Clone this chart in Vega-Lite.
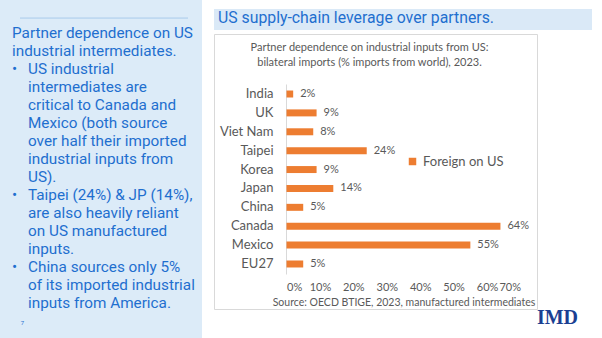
{
  "$schema": "https://vega.github.io/schema/vega-lite/v6.json",
  "background": "white",
  "padding": 0,
  "spacing": 11,
  "config": {"view": {"stroke": null}, "font": "Lato"},
  "resolve": {"scale": {"color": "independent"}, "legend": {"color": "independent"}},
  "hconcat": [
    {
      "width": 202,
      "height": 338,
      "view": {"fill": "#DCEBF8", "stroke": null},
      "layer": [
        {
          "data": {"values": [{"k": 1}]},
          "mark": {"type": "rule", "color": "#A8CAEC", "strokeWidth": 1},
          "encoding": {
            "x": {"datum": 0.5, "type": "quantitative", "scale": {"domain": [0, 1], "range": [12, 28]}, "axis": null},
            "x2": {"datum": 11},
            "y": {"datum": 0.17, "type": "quantitative", "scale": {"domain": [1, 16], "range": [33, 303]}, "axis": null}
          }
        },
        {
          "data": {"values": [
            {"line": 1, "indent": 0, "t": "Partner dependence on US", "role": "text"},
            {"line": 2, "indent": 0, "t": "industrial intermediates.", "role": "text"},
            {"line": 3, "indent": 0, "t": "•", "role": "text"},
            {"line": 3, "indent": 1, "t": "US industrial", "role": "text"},
            {"line": 4, "indent": 1, "t": "intermediates are", "role": "text"},
            {"line": 5, "indent": 1, "t": "critical to Canada and", "role": "text"},
            {"line": 6, "indent": 1, "t": "Mexico (both source", "role": "text"},
            {"line": 7, "indent": 1, "t": "over half their imported", "role": "text"},
            {"line": 8, "indent": 1, "t": "industrial inputs from", "role": "text"},
            {"line": 9, "indent": 1, "t": "US).", "role": "text"},
            {"line": 10, "indent": 0, "t": "•", "role": "text"},
            {"line": 10, "indent": 1, "t": "Taipei (24%) & JP (14%),", "role": "text"},
            {"line": 11, "indent": 1, "t": "are also heavily reliant", "role": "text"},
            {"line": 12, "indent": 1, "t": "on US manufactured", "role": "text"},
            {"line": 13, "indent": 1, "t": "inputs.", "role": "text"},
            {"line": 14, "indent": 0, "t": "•", "role": "text"},
            {"line": 14, "indent": 1, "t": "China sources only 5%", "role": "text"},
            {"line": 15, "indent": 1, "t": "of its imported industrial", "role": "text"},
            {"line": 16, "indent": 1, "t": "inputs from America.", "role": "text"},
            {"line": 17.1, "indent": 0.55, "t": "7", "role": "page"}
          ]},
          "encoding": {
            "x": {"field": "indent", "type": "quantitative", "scale": {"domain": [0, 1], "range": [12, 28]}, "axis": null},
            "y": {"field": "line", "type": "quantitative", "scale": {"domain": [1, 16], "range": [33, 303]}, "axis": null},
            "text": {"field": "t"}
          },
          "layer": [
            {
              "transform": [{"filter": "datum.role == 'text'"}],
              "mark": {"type": "text", "align": "left", "baseline": "middle", "font": "Roboto", "fontSize": 15.3, "color": "#1F6FCF"}
            },
            {
              "transform": [{"filter": "datum.role == 'page'"}],
              "mark": {"type": "text", "align": "left", "baseline": "middle", "font": "Roboto", "fontSize": 6, "color": "#1F6FCF"}
            }
          ]
        }
      ]
    },
    {
      "spacing": 3,
      "resolve": {"scale": {"color": "independent"}, "legend": {"color": "independent"}},
      "title": {"text": "IMD", "orient": "bottom", "anchor": "end", "frame": "bounds", "offset": -2, "dx": -14, "font": "Liberation Serif", "fontWeight": "bold", "fontSize": 20, "color": "#1B3F92"},
      "vconcat": [
        {
          "width": 378,
          "height": 6,
          "data": {"values": [{"k": 1}]},
          "mark": {"type": "point", "opacity": 0},
          "encoding": {}
        },
        {
          "width": 378,
          "height": 21,
          "view": {"fill": "#DAE9F7", "stroke": null},
          "title": {"text": "US supply-chain leverage over partners.", "orient": "top", "anchor": "start", "frame": "group", "offset": -18, "dx": 4, "font": "Roboto", "fontSize": 15.8, "fontWeight": "normal", "color": "#1F6FCF"},
          "data": {"values": [{"k": 1}]},
          "mark": {"type": "point", "opacity": 0},
          "encoding": {}
        },
        {
          "width": 323,
          "height": 275,
          "view": {"fill": "white", "stroke": "#D9D9D9", "strokeWidth": 1},
          "title": {"text": ["Partner dependence on industrial inputs from US:", "bilateral imports (% imports from world), 2023."], "orient": "top", "anchor": "middle", "frame": "group", "offset": -34, "dx": -6, "font": "Lato", "fontSize": 11, "fontWeight": "normal", "color": "#595959", "lineHeight": 15},
          "data": {"values": [
            {"partner": "India", "share": 0.02, "series": "Foreign on US"},
            {"partner": "UK", "share": 0.09, "series": "Foreign on US"},
            {"partner": "Viet Nam", "share": 0.08, "series": "Foreign on US"},
            {"partner": "Taipei", "share": 0.24, "series": "Foreign on US"},
            {"partner": "Korea", "share": 0.09, "series": "Foreign on US"},
            {"partner": "Japan", "share": 0.14, "series": "Foreign on US"},
            {"partner": "China", "share": 0.05, "series": "Foreign on US"},
            {"partner": "Canada", "share": 0.64, "series": "Foreign on US"},
            {"partner": "Mexico", "share": 0.55, "series": "Foreign on US"},
            {"partner": "EU27", "share": 0.05, "series": "Foreign on US"}
          ]},
          "encoding": {
            "y": {
              "field": "partner", "type": "nominal", "sort": null,
              "scale": {"range": [50, 240], "paddingInner": 0.63, "paddingOuter": 0.345},
              "axis": {"title": null, "orient": "left", "offset": -72, "labelPadding": 13, "ticks": false, "domainColor": "#D9D9D9", "labelFontSize": 13, "labelColor": "#595959", "labelFont": "Lato", "grid": false}
            },
            "x": {
              "field": "share", "type": "quantitative",
              "scale": {"domain": [0, 0.7], "range": [72.5, 306.5]},
              "axis": {"orient": "bottom", "offset": -41, "domain": false, "ticks": false, "grid": false, "labelPadding": 13, "format": ".0%", "values": [0, 0.1, 0.2, 0.3, 0.4, 0.5, 0.6, 0.7], "labelFontSize": 11, "labelColor": "#595959", "labelFont": "Lato", "title": "Source: OECD BTIGE, 2023, manufactured intermediates", "titleFont": "Lato", "titleFontSize": 10.5, "titleFontWeight": "normal", "titleColor": "#595959", "titleY": 34, "titleBaseline": "middle"}
            }
          },
          "layer": [
            {
              "mark": {"type": "bar"},
              "encoding": {
                "color": {
                  "field": "series", "type": "nominal",
                  "scale": {"range": ["#ED7D31"]},
                  "legend": {"orient": "none", "legendX": 192, "legendY": 121, "title": null, "symbolType": "square", "symbolSize": 56, "symbolStrokeWidth": 0, "labelFontSize": 13, "labelColor": "#595959", "labelFont": "Lato"}
                }
              }
            },
            {
              "mark": {"type": "text", "align": "left", "baseline": "middle", "dx": 7, "fontSize": 11, "font": "Lato", "color": "#595959"},
              "encoding": {"text": {"field": "share", "format": ".0%"}}
            }
          ]
        }
      ]
    }
  ]
}
